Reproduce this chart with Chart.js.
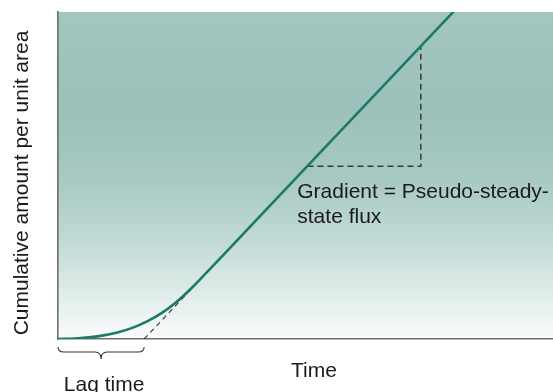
<!DOCTYPE html>
<html>
<head>
<meta charset="utf-8">
<script src="https://cdn.jsdelivr.net/npm/chart.js@4.4.1/dist/chart.umd.min.js"></script>
<style>
    body { margin: 0; background: #ffffff; }
    .chart-box { width: 553px; height: 392px; }
</style>
</head>
<body>
<div class="chart-box">
    <canvas id="lag-chart"></canvas>
</div>
<script>
// cumulative permeation curve (time vs amount), arbitrary units
const timeValues = [0, 0.4, 0.8, 1.2, 1.5, 1.8, 2.1, 2.4, 2.7, 3.0, 3.4, 4.0, 8.0];
const amountValues = [0, 0.02, 0.08, 0.20, 0.34, 0.54, 0.80, 1.14, 1.56, 2.03, 2.665, 3.625, 10.025];

// extrapolated steady-state line, from the lag time up to where it meets the curve
const tangentTime = [1.74, 2.75];
const tangentAmount = [0, 1.62];

// gradient triangle
const triangleTime = [5.04, 7.33, 7.33];
const triangleAmount = [5.28, 5.28, 8.94];

const lagTime = 1.74;
const gradientLabel = ['Gradient = Pseudo-steady-', 'state flux'];
const gradientLabelAt = { x: 4.834, y: 4.30 };

const xTitle = 'Time';
const yTitle = 'Cumulative amount per unit area';
const lagLabel = 'Lag time';

const FONT = '21px "Liberation Sans", Arial, sans-serif';

function toPoints(xs, ys) {
    return xs.map((x, i) => ({ x: x, y: ys[i] }));
}

const backgroundPlugin = {
    id: 'background',
    beforeDraw(chart) {
        const { ctx, chartArea } = chart;
        const grad = ctx.createLinearGradient(0, chartArea.top, 0, chartArea.bottom);
        grad.addColorStop(0, '#a3c6bf');
        grad.addColorStop(0.3, '#9cc1ba');
        grad.addColorStop(0.5, '#a6c8c1');
        grad.addColorStop(0.7, '#c1dad5');
        grad.addColorStop(0.88, '#e3eeec');
        grad.addColorStop(1, '#f9fbfb');
        ctx.save();
        ctx.fillStyle = grad;
        ctx.fillRect(chartArea.left, chartArea.top, chartArea.right - chartArea.left, chartArea.bottom - chartArea.top);
        ctx.restore();
    }
};

const labelsPlugin = {
    id: 'labels',
    afterDraw(chart) {
        const { ctx, chartArea } = chart;
        const xScale = chart.scales.x;
        const yScale = chart.scales.y;
        ctx.save();
        ctx.font = FONT;
        ctx.fillStyle = '#1a1a1a';
        ctx.textBaseline = 'alphabetic';

        // gradient note
        ctx.textAlign = 'left';
        const gx = xScale.getPixelForValue(gradientLabelAt.x);
        const gy = yScale.getPixelForValue(gradientLabelAt.y);
        ctx.fillText(gradientLabel[0], gx, gy);
        ctx.fillText(gradientLabel[1], gx, gy + 24.5);

        // axis titles
        ctx.textAlign = 'center';
        ctx.fillText(xTitle, 314, 377);

        ctx.save();
        ctx.translate(28, 183);
        ctx.rotate(-Math.PI / 2);
        ctx.fillText(yTitle, 0, 0);
        ctx.restore();

        // brace under the lag time
        const x0 = xScale.getPixelForValue(0);
        const x1 = xScale.getPixelForValue(lagTime);
        const xm = (x0 + x1) / 2;
        const top = chartArea.bottom + 8;
        const mid = top + 5;
        const tip = top + 12;
        ctx.strokeStyle = '#333333';
        ctx.lineWidth = 1.1;
        ctx.beginPath();
        ctx.moveTo(x0, top);
        ctx.quadraticCurveTo(x0, mid, x0 + 6, mid);
        ctx.lineTo(xm - 6, mid);
        ctx.quadraticCurveTo(xm, mid, xm, tip);
        ctx.quadraticCurveTo(xm, mid, xm + 6, mid);
        ctx.lineTo(x1 - 6, mid);
        ctx.quadraticCurveTo(x1, mid, x1, top);
        ctx.stroke();

        ctx.fillText(lagLabel, xm + 3, 391);
        ctx.restore();
    }
};

const hiddenAxis = {
    type: 'linear',
    min: 0,
    max: 10,
    grid: { display: false, drawTicks: false, tickLength: 0 },
    ticks: { display: false },
    border: { display: true, color: '#6e6e6e', width: 1.6 }
};

new Chart(document.getElementById('lag-chart'), {
    type: 'line',
    data: {
        datasets: [
            {
                label: 'Cumulative amount',
                data: toPoints(timeValues, amountValues),
                borderColor: '#1b7a66',
                borderWidth: 2.6,
                pointRadius: 0,
                cubicInterpolationMode: 'monotone',
                clip: 0
            },
            {
                label: 'Tangent',
                data: toPoints(tangentTime, tangentAmount),
                borderColor: '#333333',
                borderWidth: 1.1,
                borderDash: [5, 4],
                pointRadius: 0,
                tension: 0
            },
            {
                label: 'Triangle',
                data: toPoints(triangleTime, triangleAmount),
                borderColor: '#3a3a3a',
                borderWidth: 1.5,
                borderDash: [6, 4],
                pointRadius: 0,
                tension: 0
            }
        ]
    },
    options: {
        animation: false,
        responsive: true,
        maintainAspectRatio: false,
        layout: { padding: { left: 58, top: 12, right: 0, bottom: 53 } },
        plugins: {
            legend: { display: false },
            tooltip: { enabled: false }
        },
        scales: {
            x: hiddenAxis,
            y: hiddenAxis
        }
    },
    plugins: [backgroundPlugin, labelsPlugin]
});
</script>
</body>
</html>
